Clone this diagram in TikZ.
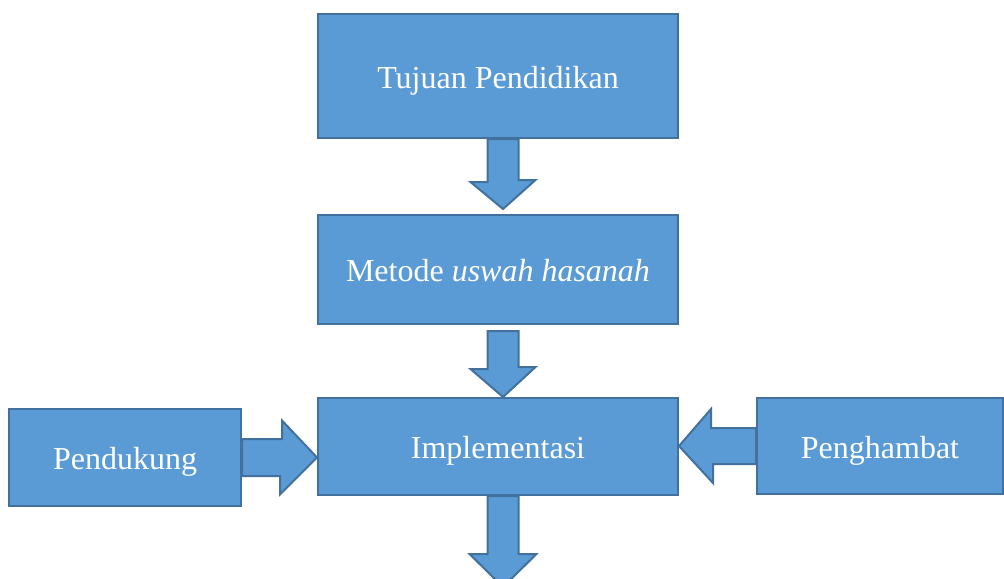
\documentclass[tikz,border=0pt]{standalone}
\usepackage{fontspec}
\setmainfont{Liberation Serif}
\usepackage{tikz}
\usetikzlibrary{calc}
\usepackage{xcolor}
\definecolor{cFill}{RGB}{91,155,213}
\definecolor{cEdge}{RGB}{65,113,156}

\begin{document}
\begin{tikzpicture}[
  font=\fontsize{16}{19}\selectfont,
  bx/.style={rectangle, draw=cEdge, line width=1pt, fill=cFill,
    text=white, align=center, inner sep=2pt, minimum width=180pt,
    text height=14pt, text depth=2pt},
  blk/.style={draw=cEdge, line width=1pt, fill=cFill, line join=miter}]
\useasboundingbox (0,0) rectangle (502pt,-289pt);
\clip (0,0) rectangle (502pt,-289pt);
\node[bx, minimum height=62pt] (tp) at (249pt,-38pt) {Tujuan Pendidikan};
\node[bx, minimum height=54.5pt] (md) at (249pt,-134.75pt) {Metode \textit{uswah hasanah}};
\node[bx, minimum height=48.5pt] (im) at (249pt,-223.25pt) {Implementasi};
\node[bx, minimum width=116pt, minimum height=48.5pt] (pd) at (62.5pt,-228.75pt) {Pendukung};
\node[bx, minimum width=123pt, minimum height=48pt] (ph) at (440pt,-223pt) {Penghambat};
% block arrows down the middle
\draw[blk] ([xshift=-5.25pt]tp.south) -- ++(0,-21.5pt) -- ++(-8.5pt,0)
  -- ([xshift=2.5pt,yshift=2.5pt]md.north) -- ++(16.25pt,14.5pt) -- ++(-8.5pt,0)
  -- ([xshift=10.25pt]tp.south) -- cycle;
\draw[blk] ([xshift=-5.25pt,yshift=-3pt]md.south) -- ++(0,-19pt) -- ++(-8.5pt,0)
  -- ([xshift=2.5pt]im.north) -- ++(16.25pt,15pt) -- ++(-8.5pt,0)
  -- ([xshift=10.25pt,yshift=-3pt]md.south) -- cycle;
\draw[blk] ([xshift=-5.25pt]im.south) -- ++(0,-29pt) -- ++(-9pt,0)
  -- ++(16.75pt,-16.5pt) -- ++(16.75pt,16.5pt) -- ++(-9pt,0)
  -- ([xshift=10.25pt]im.south) -- cycle;
% block arrows from the sides
\draw[blk] ([yshift=9.25pt]pd.east) -- ++(20pt,0) -- ++(0,9.25pt)
  -- (im.west |- pd.east) -- ++(-18.5pt,-18.5pt) -- ++(0,9.25pt)
  -- ([yshift=-9.25pt]pd.east) -- cycle;
\draw[blk] ([yshift=9pt]ph.west) -- ++(-22.5pt,0) -- ++(0,9.5pt)
  -- (im.east |- ph.west) -- ++(17pt,-18.5pt) -- ++(0,9.5pt)
  -- ([yshift=-9pt]ph.west) -- cycle;
\end{tikzpicture}
\end{document}
